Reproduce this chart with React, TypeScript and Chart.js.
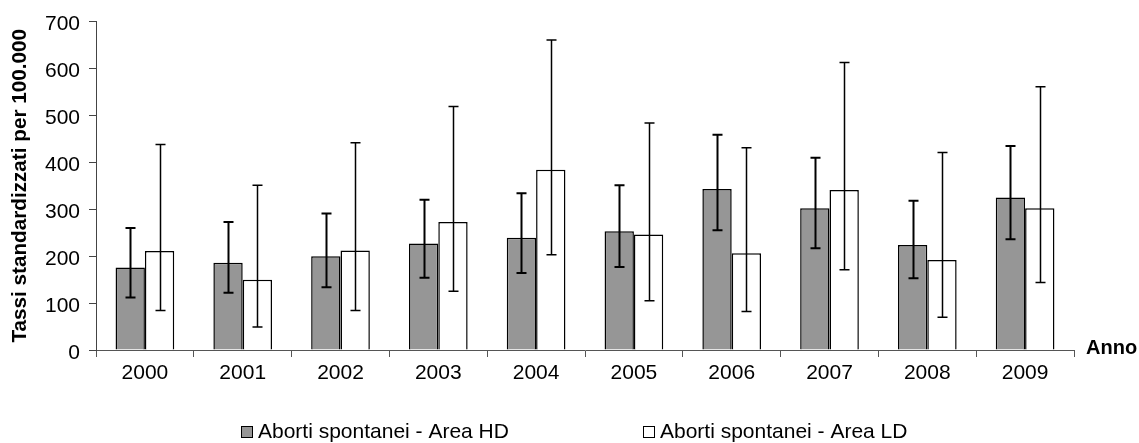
import React, { useEffect, useRef } from 'react';
import { Chart, registerables } from 'chart.js';

Chart.register(...registerables);

const years = ['2000', '2001', '2002', '2003', '2004', '2005', '2006', '2007', '2008', '2009'];
const hdValues = [176, 186, 200, 227, 239, 253, 343, 302, 224, 325];
const hdLow = [112, 122, 134, 154, 164, 177, 255, 217, 153, 236];
const hdHigh = [260, 273, 291, 320, 334, 351, 459, 410, 318, 435];
const ldValues = [211, 150, 212, 273, 384, 246, 206, 341, 192, 302];
const ldLow = [84, 49, 84, 125, 203, 105, 82, 171, 70, 144];
const ldHigh = [438, 351, 442, 519, 661, 484, 431, 613, 421, 561];
const seriesNames = ['Aborti spontanei - Area HD', 'Aborti spontanei - Area LD'];
const seriesColors = ['#969696', '#ffffff'];
const yAxisTitle = 'Tassi standardizzati per 100.000';
const xAxisTitle = 'Anno';
const yMin = 0;
const yMax = 700;
const yStep = 100;

const FONT = "'Liberation Sans', Arial, Helvetica, sans-serif";

const errorBarPlugin = {
  id: 'errorBars',
  afterDatasetsDraw(chart: any) {
    const ctx = chart.ctx;
    const yScale = chart.scales.y;
    const ranges = [
      { low: hdLow, high: hdHigh, width: 2 },
      { low: ldLow, high: ldHigh, width: 1.5 },
    ];
    ctx.save();
    ctx.strokeStyle = '#000';
    ranges.forEach((r, di) => {
      const meta = chart.getDatasetMeta(di);
      ctx.lineWidth = r.width;
      meta.data.forEach((bar: any, i: number) => {
        const x = Math.round(bar.x) + 0.5;
        const yH = yScale.getPixelForValue(r.high[i]);
        const yL = yScale.getPixelForValue(r.low[i]);
        const cap = 5;
        ctx.beginPath();
        ctx.moveTo(x, yH);
        ctx.lineTo(x, yL);
        ctx.moveTo(x - cap, yH);
        ctx.lineTo(x + cap, yH);
        ctx.moveTo(x - cap, yL);
        ctx.lineTo(x + cap, yL);
        ctx.stroke();
      });
    });
    ctx.restore();
  },
};

const extrasPlugin = {
  id: 'extras',
  afterDraw(chart: any) {
    const ctx = chart.ctx;
    const area = chart.chartArea;
    ctx.save();
    // axis title "Anno" at the right end of the x axis
    ctx.fillStyle = '#000';
    ctx.font = `bold 20px ${FONT}`;
    ctx.textAlign = 'left';
    ctx.textBaseline = 'middle';
    ctx.fillText(xAxisTitle, area.right + 12, area.bottom - 2);

    // legend
    const legendY = 432;
    const starts = [241, 643];
    ctx.font = `21px ${FONT}`;
    seriesNames.forEach((name, i) => {
      const x0 = starts[i];
      ctx.fillStyle = seriesColors[i];
      ctx.fillRect(x0, legendY - 6, 12, 12);
      ctx.strokeStyle = '#000';
      ctx.lineWidth = 1;
      ctx.strokeRect(x0 + 0.5, legendY - 5.5, 11, 11);
      ctx.fillStyle = '#000';
      ctx.fillText(name, x0 + 17, legendY);
    });
    ctx.restore();
  },
};

export default function App() {
  const canvasRef = useRef<HTMLCanvasElement | null>(null);

  useEffect(() => {
    if (!canvasRef.current) return;
    const chart = new Chart(canvasRef.current, {
      type: 'bar',
      data: {
        labels: years,
        datasets: [
          {
            label: seriesNames[0],
            data: hdValues,
            backgroundColor: seriesColors[0],
            borderColor: '#000',
            borderWidth: 1.5,
            categoryPercentage: 0.6,
            barPercentage: 1.0,
          },
          {
            label: seriesNames[1],
            data: ldValues,
            backgroundColor: seriesColors[1],
            borderColor: '#000',
            borderWidth: 1.5,
            categoryPercentage: 0.6,
            barPercentage: 1.0,
          },
        ],
      },
      options: {
        responsive: false,
        animation: false,
        devicePixelRatio: 1,
        layout: { padding: { left: 0, top: 18, right: 65, bottom: 53 } },
        plugins: {
          legend: { display: false },
          tooltip: { enabled: false },
          title: { display: false },
        },
        scales: {
          x: {
            offset: true,
            grid: {
              offset: true,
              drawOnChartArea: false,
              drawTicks: true,
              tickLength: 7,
              color: '#555',
            },
            border: { color: '#555', width: 1 },
            ticks: {
              color: '#000',
              font: { family: FONT, size: 21 },
              padding: 4,
              maxRotation: 0,
            },
            afterFit(scale: any) {
              scale.height = 40;
            },
          },
          y: {
            min: yMin,
            max: yMax,
            grid: {
              drawOnChartArea: false,
              drawTicks: true,
              tickLength: 7,
              color: '#444',
            },
            border: { color: '#444', width: 1 },
            ticks: {
              stepSize: yStep,
              color: '#000',
              font: { family: FONT, size: 21 },
              padding: 9,
              labelOffset: 3,
            },
            title: {
              display: true,
              text: yAxisTitle,
              color: '#000',
              font: { family: FONT, size: 20.7, weight: 'bold' },
              padding: { top: 8, bottom: 0 },
            },
            afterFit(scale: any) {
              scale.width = 96;
            },
          },
        },
      },
      plugins: [errorBarPlugin, extrasPlugin],
    });
    return () => chart.destroy();
  }, []);

  return (
    <div style={{ position: 'absolute', left: 0, top: 0, width: 1139, height: 443, background: '#fff' }}>
      <canvas ref={canvasRef} width={1139} height={443} style={{ width: 1139, height: 443 }} />
    </div>
  );
}
